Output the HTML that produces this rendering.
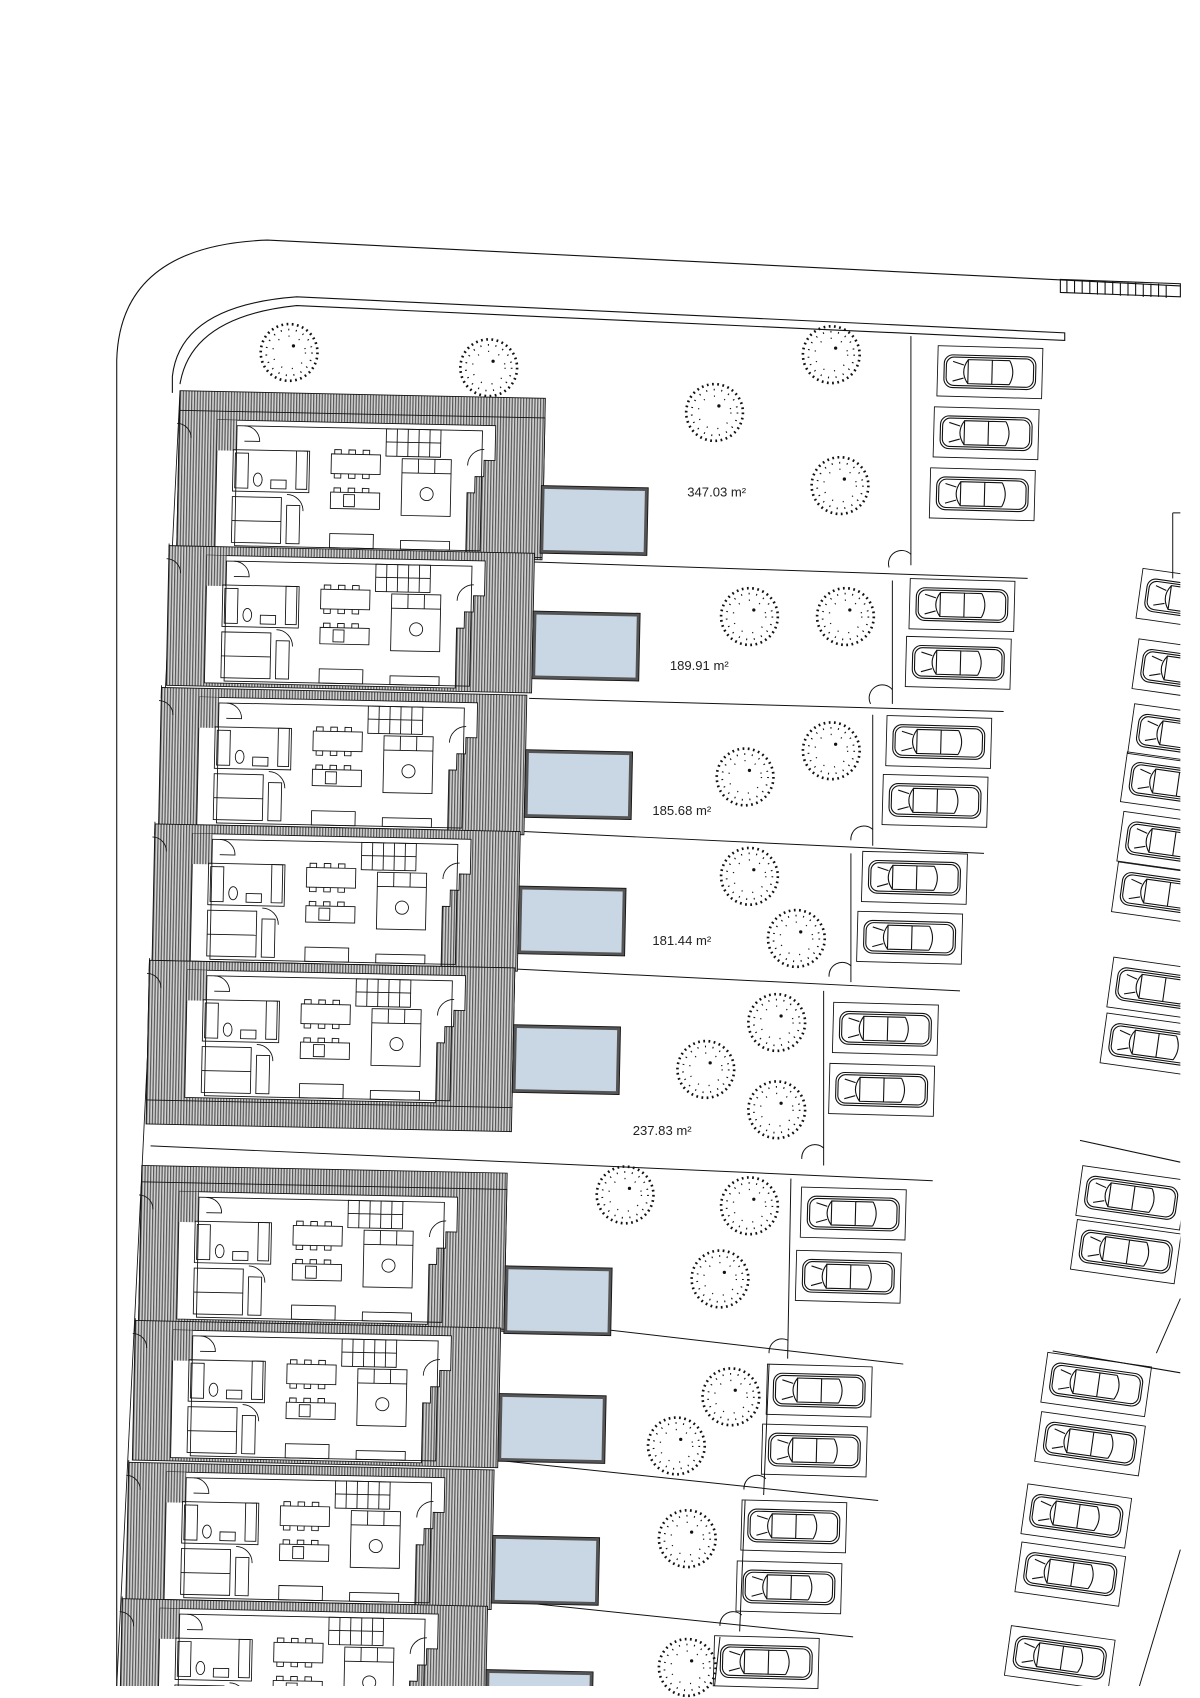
<!DOCTYPE html>
<html><head><meta charset="utf-8"><style>
html,body{margin:0;padding:0;background:#fff;}
svg{display:block;}
text{font-family:"Liberation Sans",sans-serif;font-size:12px;fill:#222;}
</style></head><body>
<svg width="1200" height="1698" viewBox="0 0 1100 1556" preserveAspectRatio="none" xmlns="http://www.w3.org/2000/svg">
<defs>
<pattern id="h" width="2.6" height="10" patternUnits="userSpaceOnUse">
<rect width="2.6" height="10" fill="#d2d2d2"/>
<rect width="1.1" height="10" fill="#555"/>
</pattern>
<clipPath id="cr"><rect x="0" y="0" width="1082" height="1545"/></clipPath>
<g id="tree" fill="none" stroke="#111">
<circle r="26" stroke-width="2.4" stroke-dasharray="1.6 3.2"/>
<circle r="21" stroke-width="1.6" stroke-dasharray="1 6"/>
<circle r="15" stroke-width="1.2" stroke-dasharray="1 9"/>
<circle cx="4" cy="-6" r="1.5" fill="#111" stroke="none"/>
</g>
<g id="car" fill="none" stroke="#111" stroke-width="1">
<rect x="0" y="0" width="84" height="30" rx="8"/>
<rect x="2" y="2" width="80" height="26" rx="7"/>
<path d="M22 4 L44 4 L44 26 L22 26 Z M22 4 Q14 15 22 26 M60 4 Q66 15 60 26 M44 4 L60 4 M44 26 L60 26 M8 6 L18 9 M8 24 L18 21"/>
</g>
<g id="pk">
<rect x="0" y="0" width="96" height="46" fill="none" stroke="#111" stroke-width="0.8"/>
<use href="#car" x="6" y="8"/>
</g>
<g id="house" stroke="#111" stroke-width="0.8">
<rect x="0" y="0" width="335" height="128" fill="url(#h)"/>
<path d="M35 8 L290 8 L290 40 L280 40 L280 55 L272 55 L272 70 L265 70 L265 125 L35 125 Z" fill="#fff"/>
<rect x="35" y="8" width="18" height="28" fill="url(#h)" stroke="none"/>
<g fill="none">
<rect x="53" y="13" width="225" height="110"/>
<rect x="50" y="35" width="70" height="38"/>
<rect x="52" y="38" width="12" height="32"/>
<ellipse cx="73" cy="62" rx="4" ry="6"/>
<rect x="85" y="62" width="14" height="8"/>
<rect x="108" y="35" width="10" height="35"/>
<rect x="50" y="78" width="45" height="42"/>
<path d="M50 100 L95 100"/>
<rect x="100" y="85" width="12" height="35"/>
<path d="M100 75 A15 15 0 0 1 115 90"/>
<rect x="140" y="37" width="45" height="18"/>
<path d="M143 37v-4h6v4M156 37v-4h6v4M169 37v-4h6v4M143 55v4h6v-4M156 55v4h6v-4M169 55v4h6v-4"/>
<rect x="140" y="72" width="45" height="15"/>
<rect x="152" y="74" width="10" height="11"/>
<path d="M143 72v-4h6v4M156 72v-4h6v4M169 72v-4h6v4"/>
<rect x="205" y="40" width="45" height="52"/>
<path d="M205 53h45M220 40v13M235 40v13"/>
<circle cx="228" cy="72" r="6"/>
<rect x="190" y="13" width="50" height="25"/>
<path d="M200 13v25M210 13v25M220 13v25M230 13v25M190 25h50"/>
<rect x="140" y="110" width="40" height="13"/>
<rect x="205" y="115" width="45" height="8"/>
<path d="M60 13 A14 14 0 0 1 74 27 L60 27"/>
<path d="M265 45 A15 15 0 0 1 280 30"/>
<path d="M0 10 L0 -2 M-2 12 A13 13 0 0 1 11 25"/>
</g>
</g>
<g id="pool">
<rect x="0" y="0" width="98" height="62" fill="#555" stroke="#111" stroke-width="0.8"/>
<rect x="3" y="3" width="92" height="56" fill="#c9d6e3"/>
</g>
</defs>

<g fill="none" stroke="#111" stroke-width="1">
<path d="M107 1545 L107 330 Q110 225 245 220 L1082 262"/>
<path d="M158 360 L158 345 Q165 280 272 272 L976 305 L976 312 L272 280 Q175 290 165 352"/>
<path d="M972 256 L1082 260 L1082 272 L972 268 Z"/>
<path d="M978 256v12M985 257v12M992 257v12M999 257v12M1006 258v12M1013 258v12M1020 258v12M1027 259v12M1034 259v12M1041 259v12M1048 260v12M1055 260v12M1062 260v12M1069 261v12"/>
<path d="M165 358 L107 1545" stroke-width="0.8"/>
</g>

<g fill="none" stroke="#111" stroke-width="0.9">
<path d="M490 515 L942 530 M485 640 L920 652 M480 762 L902 782 M472 888 L880 908 M138 1050 L855 1082 M465 1208 L828 1250 M455 1338 L805 1375 M445 1465 L782 1500"/>
<path d="M835 308 L835 518 M818 532 L818 645 M800 655 L800 775 M780 782 L780 900 M755 908 L755 1068 M725 1080 L722 1245 M705 1250 L700 1370 M683 1375 L678 1495 M660 1500 L655 1545"/>
<path d="M815 520 A12 12 0 0 1 835 508 M798 645 A12 12 0 0 1 818 632 M780 770 A12 12 0 0 1 800 760 M760 895 A12 12 0 0 1 780 885 M735 1062 A12 12 0 0 1 755 1052 M705 1240 A12 12 0 0 1 722 1228 M682 1365 A12 12 0 0 1 702 1355 M660 1490 A12 12 0 0 1 680 1480"/>
<path d="M1075 470 L1082 470 M1075 470 L1075 530 M1060 1240 L1082 1190 M1040 1560 L1082 1420"/>
</g>

<g transform="translate(165,358) rotate(1.2)">
<rect x="0" y="0" width="335" height="148" fill="url(#h)" stroke="#111" stroke-width="0.8"/>
<g transform="translate(0,18)"><use href="#house"/></g>
<use href="#pool" x="333" y="80"/>
</g>
<g transform="translate(155,500) rotate(1.2)"><use href="#house"/><use href="#pool" x="335" y="53"/></g>
<g transform="translate(148,630) rotate(1.2)"><use href="#house"/><use href="#pool" x="335" y="50"/></g>
<g transform="translate(142,755) rotate(1.2)"><use href="#house"/><use href="#pool" x="335" y="50"/></g>
<g transform="translate(137,880) rotate(1.2)">
<rect x="0" y="0" width="335" height="150" fill="url(#h)" stroke="#111" stroke-width="0.8"/>
<use href="#house"/><use href="#pool" x="335" y="52"/>
</g>
<g transform="translate(130,1068) rotate(1.2)">
<rect x="0" y="0" width="335" height="145" fill="url(#h)" stroke="#111" stroke-width="0.8"/>
<g transform="translate(0,15)"><use href="#house"/></g><use href="#pool" x="335" y="85"/>
</g>
<g transform="translate(124,1210) rotate(1.2)"><use href="#house"/><use href="#pool" x="335" y="60"/></g>
<g transform="translate(118,1340) rotate(1.2)"><use href="#house"/><use href="#pool" x="335" y="60"/></g>
<g transform="translate(112,1465) rotate(1.2)"><use href="#house"/><use href="#pool" x="335" y="58"/></g>
<rect x="0" y="1545" width="1100" height="20" fill="#fff"/>

<use href="#tree" x="265" y="323"/><use href="#tree" x="448" y="337"/><use href="#tree" x="762" y="325"/>
<use href="#tree" x="655" y="378"/><use href="#tree" x="770" y="445"/>
<use href="#tree" x="687" y="565"/><use href="#tree" x="775" y="565"/>
<use href="#tree" x="762" y="688"/><use href="#tree" x="683" y="712"/>
<use href="#tree" x="687" y="803"/><use href="#tree" x="730" y="860"/>
<use href="#tree" x="712" y="937"/><use href="#tree" x="647" y="980"/><use href="#tree" x="712" y="1017"/>
<use href="#tree" x="573" y="1095"/><use href="#tree" x="687" y="1105"/><use href="#tree" x="660" y="1172"/>
<use href="#tree" x="670" y="1280"/><use href="#tree" x="620" y="1325"/>
<use href="#tree" x="630" y="1410"/><use href="#tree" x="630" y="1528"/>

<text x="630" y="455">347.03 m²</text>
<text x="614" y="614">189.91 m²</text>
<text x="598" y="747">185.68 m²</text>
<text x="598" y="866">181.44 m²</text>
<text x="580" y="1040">237.83 m²</text>

<g transform="rotate(1.5 900 700)">
<use href="#pk" x="850" y="318"/><use href="#pk" x="848" y="374"/><use href="#pk" x="846" y="430"/>
<use href="#pk" x="830" y="532"/><use href="#pk" x="828" y="585"/>
<use href="#pk" x="812" y="658"/><use href="#pk" x="810" y="712"/>
<use href="#pk" x="793" y="783"/><use href="#pk" x="790" y="838"/>
<use href="#pk" x="770" y="922"/><use href="#pk" x="768" y="978"/>
<use href="#pk" x="745" y="1092"/><use href="#pk" x="742" y="1150"/>
<use href="#pk" x="718" y="1255"/><use href="#pk" x="715" y="1310"/>
<use href="#pk" x="698" y="1380"/><use href="#pk" x="695" y="1436"/>
<use href="#pk" x="676" y="1505"/>
</g>
<g clip-path="url(#cr)">
<g transform="rotate(8 1040 540)"><use href="#pk" x="1045" y="520"/></g>
<g transform="rotate(8 1040 600)"><use href="#pk" x="1042" y="585"/></g>
<g transform="rotate(8 1040 660)"><use href="#pk" x="1038" y="645"/></g>
<g transform="rotate(8 1040 700)"><use href="#pk" x="1032" y="690"/></g>
<g transform="rotate(8 1040 760)"><use href="#pk" x="1028" y="745"/></g>
<g transform="rotate(8 1040 800)"><use href="#pk" x="1024" y="792"/></g>
<g transform="rotate(8 1040 900)"><use href="#pk" x="1018" y="880"/></g>
<g transform="rotate(8 1040 950)"><use href="#pk" x="1012" y="932"/></g>
<g transform="rotate(8 1040 1090)"><use href="#pk" x="990" y="1075"/></g>
<g transform="rotate(8 1040 1140)"><use href="#pk" x="985" y="1125"/></g>
<g transform="rotate(8 1000 1260)"><use href="#pk" x="958" y="1245"/></g>
<g transform="rotate(8 1000 1310)"><use href="#pk" x="953" y="1300"/></g>
<g transform="rotate(8 1000 1380)"><use href="#pk" x="940" y="1368"/></g>
<g transform="rotate(8 1000 1430)"><use href="#pk" x="935" y="1422"/></g>
<g transform="rotate(8 1000 1510)"><use href="#pk" x="925" y="1500"/></g>
<path d="M990 1045 L1082 1065 M965 1238 L1082 1258" stroke="#111" fill="none"/>
</g>
</svg>
</body></html>
